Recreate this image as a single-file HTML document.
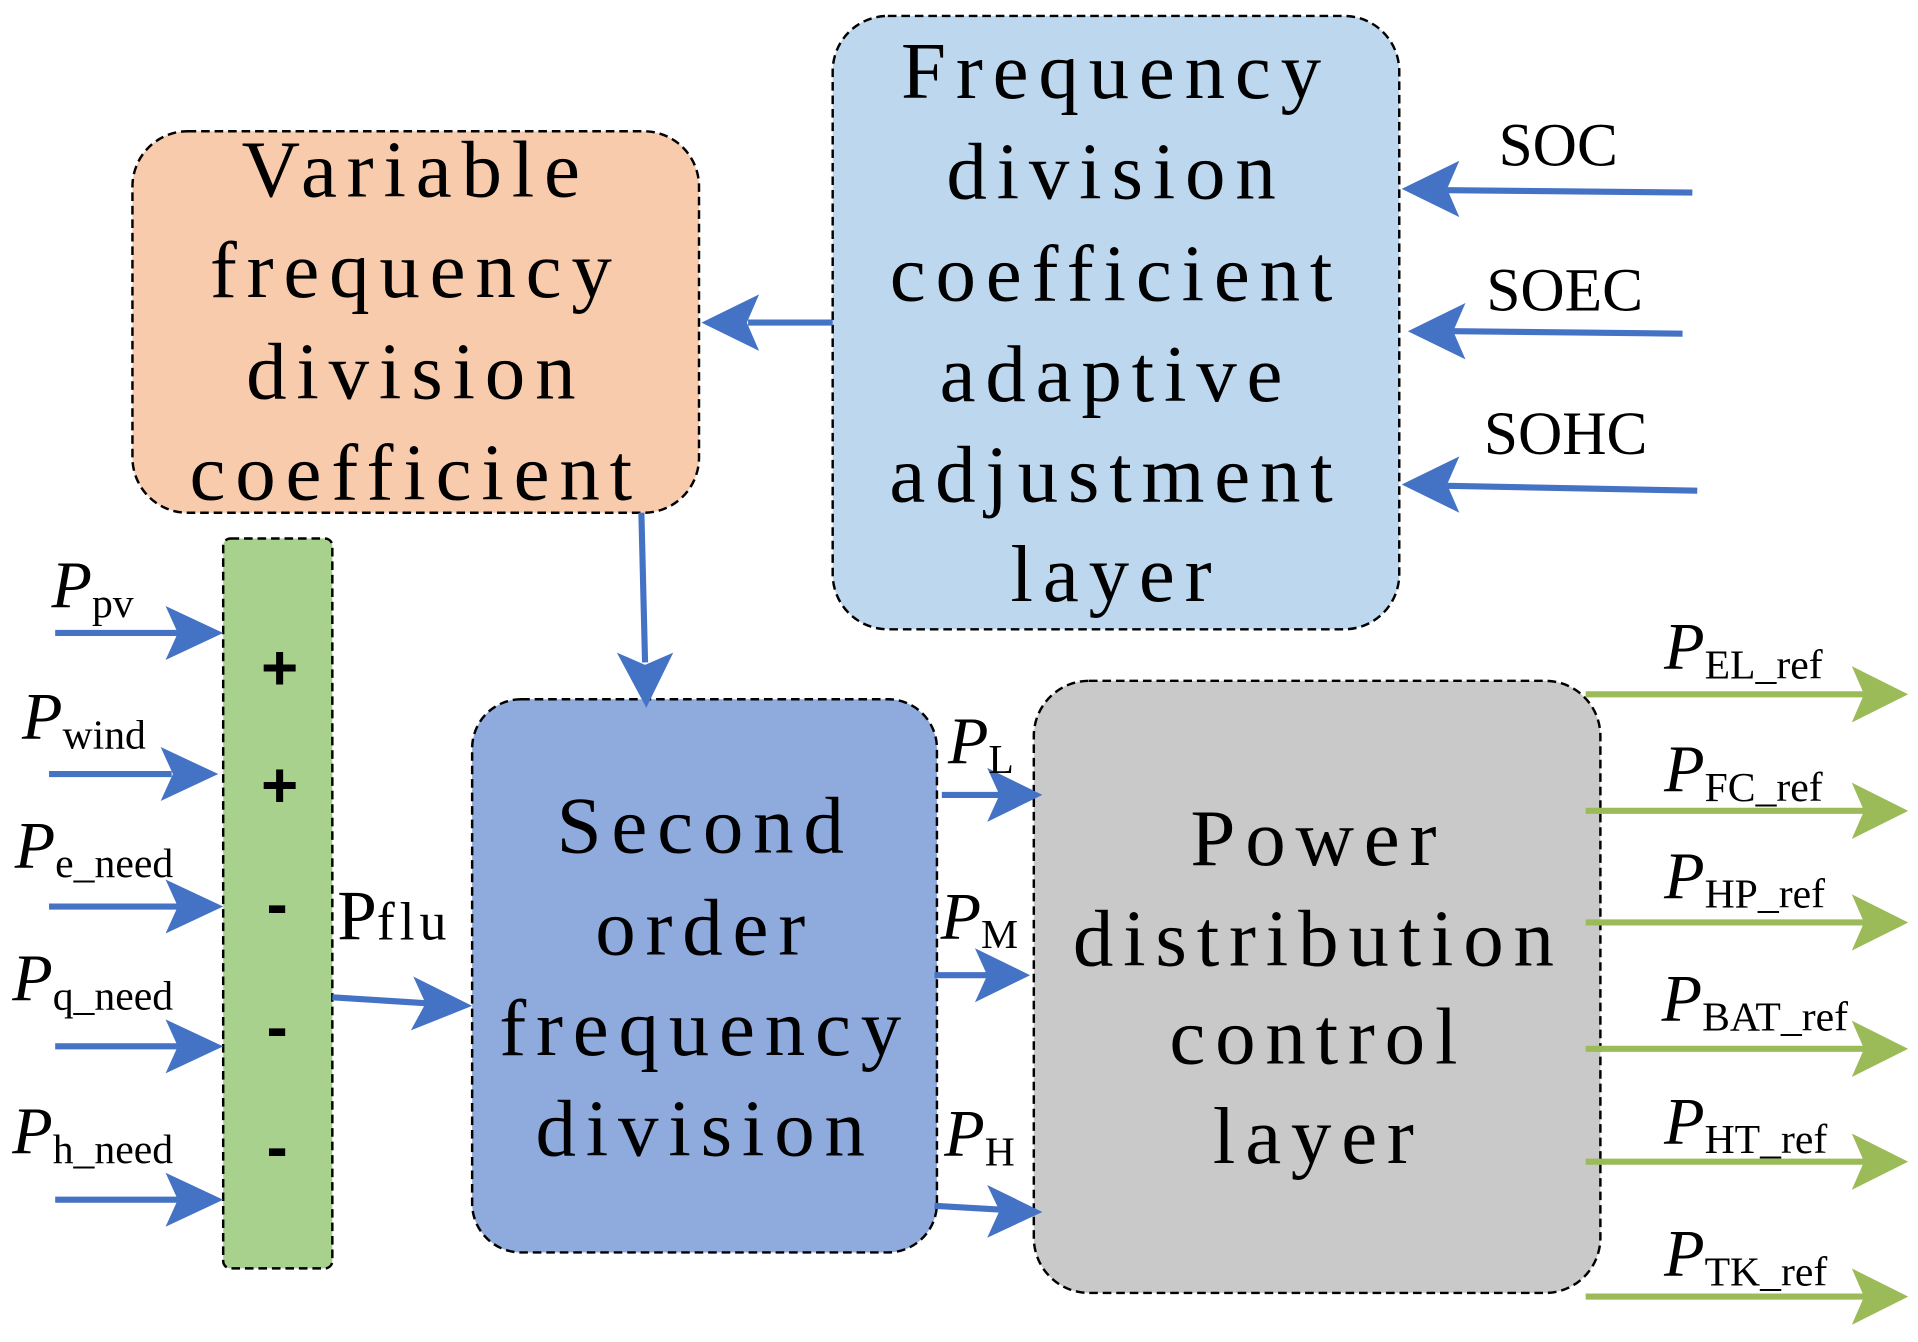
<!DOCTYPE html>
<html><head><meta charset="utf-8"><style>
html,body{margin:0;padding:0;background:#fff;}
svg{display:block;}
.bt{font-family:"Liberation Serif",serif;font-size:66px;fill:#000;text-anchor:middle;letter-spacing:8px;}
.lb{font-family:"Liberation Serif",serif;font-size:50px;fill:#000;}
.P{font-family:"Liberation Serif",serif;font-style:italic;font-size:54px;fill:#000;}
.s{font-family:"Liberation Serif",serif;font-size:34px;fill:#000;font-style:normal;}
.sg{font-family:"Liberation Sans",sans-serif;font-size:52px;font-weight:bold;fill:#000;text-anchor:middle;}
</style></head><body>
<svg width="1918" height="1342" viewBox="0 0 1564 1094" preserveAspectRatio="none" xmlns="http://www.w3.org/2000/svg">
<g stroke="#000" stroke-width="2" stroke-dasharray="7,4">
<rect x="108" y="107" width="462" height="311" rx="45" fill="#F8CBAD"/>
<rect x="679" y="13" width="462" height="500" rx="45" fill="#BDD7EE"/>
<rect x="182" y="439" width="89" height="595" rx="6" fill="#A9D18E"/>
<rect x="385" y="570" width="379" height="451" rx="40" fill="#8FAADC"/>
<rect x="843" y="555" width="462" height="499" rx="45" fill="#C9C9C9"/>
</g>
<g>
<text class="bt" x="339" y="160">Variable</text>
<text class="bt" x="339" y="242">frequency</text>
<text class="bt" x="339" y="325">division</text>
<text class="bt" x="339" y="407">coefficient</text>
<text class="bt" x="910" y="80">Frequency</text>
<text class="bt" x="910" y="162">division</text>
<text class="bt" x="910" y="245">coefficient</text>
<text class="bt" x="910" y="327">adaptive</text>
<text class="bt" x="910" y="409">adjustment</text>
<text class="bt" x="910" y="490">layer</text>
<text class="bt" x="575" y="695">Second</text>
<text class="bt" x="575" y="778">order</text>
<text class="bt" x="575" y="860">frequency</text>
<text class="bt" x="575" y="942">division</text>
<text class="bt" x="1075" y="705">Power</text>
<text class="bt" x="1075" y="787">distribution</text>
<text class="bt" x="1075" y="867">control</text>
<text class="bt" x="1075" y="948">layer</text>
</g>
<g fill="#4472C4" stroke="#4472C4" stroke-width="5">
<line x1="45" y1="516" x2="145" y2="516"/><polygon stroke="none" points="182,516 135,494 145,516 135,538"/>
<line x1="40" y1="631" x2="140" y2="631"/><polygon stroke="none" points="178,631 131,609 141,631 131,653"/>
<line x1="40" y1="739" x2="145" y2="739"/><polygon stroke="none" points="182,739 135,717 145,739 135,761"/>
<line x1="45" y1="853" x2="145" y2="853"/><polygon stroke="none" points="182,853 135,831 145,853 135,875"/>
<line x1="45" y1="978" x2="145" y2="978"/><polygon stroke="none" points="182,978 135,956 145,978 135,1000"/>
<line x1="271" y1="813" x2="350" y2="818"/><polygon stroke="none" points="385,820 337,796 347,818 335,840"/>
<line x1="523" y1="418" x2="526" y2="540"/><polygon stroke="none" points="527,577 503,532 526,542 549,532"/>
<line x1="679" y1="263" x2="610" y2="263"/><polygon stroke="none" points="572,263 619,240 609,263 619,286"/>
<line x1="1380" y1="157" x2="1180" y2="155"/><polygon stroke="none" points="1143,154 1190,131 1180,154 1190,177"/>
<line x1="1372" y1="272" x2="1185" y2="270"/><polygon stroke="none" points="1148,270 1195,247 1185,270 1195,293"/>
<line x1="1384" y1="400" x2="1180" y2="396"/><polygon stroke="none" points="1143,395 1190,372 1180,395 1190,418"/>
<line x1="768" y1="648" x2="815" y2="648"/><polygon stroke="none" points="850,648 805,626 815,648 805,670"/>
<line x1="762" y1="795" x2="805" y2="795"/><polygon stroke="none" points="840,795 795,773 805,795 795,817"/>
<line x1="762" y1="983" x2="815" y2="986"/><polygon stroke="none" points="850,988 805,966 815,987 805,1009"/>
</g>
<g fill="#9BBB59" stroke="#9BBB59" stroke-width="5">
<line x1="1293" y1="566" x2="1520" y2="566"/><polygon stroke="none" points="1556,566 1510,543 1520,566 1510,589"/>
<line x1="1293" y1="661" x2="1520" y2="661"/><polygon stroke="none" points="1556,661 1510,638 1520,661 1510,684"/>
<line x1="1293" y1="752" x2="1520" y2="752"/><polygon stroke="none" points="1556,752 1510,729 1520,752 1510,775"/>
<line x1="1293" y1="855" x2="1520" y2="855"/><polygon stroke="none" points="1556,855 1510,832 1520,855 1510,878"/>
<line x1="1293" y1="947" x2="1520" y2="947"/><polygon stroke="none" points="1556,947 1510,924 1520,947 1510,970"/>
<line x1="1293" y1="1057" x2="1520" y2="1057"/><polygon stroke="none" points="1556,1057 1510,1034 1520,1057 1510,1080"/>
</g>
<g>
<text class="sg" x="228" y="562">+</text>
<text class="sg" x="228" y="658">+</text>
<text class="sg" x="226" y="755">-</text>
<text class="sg" x="226" y="855">-</text>
<text class="sg" x="226" y="953">-</text>
</g>
<text class="lb" x="1222" y="135">SOC</text>
<text class="lb" x="1212" y="253">SOEC</text>
<text class="lb" x="1210" y="370">SOHC</text>
<text class="P" x="275" y="766" style="font-style:normal;font-size:58px">P<tspan class="s" style="font-size:44px;letter-spacing:4px">flu</tspan></text>
<text class="P" x="42" y="495">P<tspan class="s" dy="8">pv</tspan></text>
<text class="P" x="18" y="602">P<tspan class="s" dy="8">wind</tspan></text>
<text class="P" x="12" y="707">P<tspan class="s" dy="8">e_need</tspan></text>
<text class="P" x="10" y="815">P<tspan class="s" dy="8">q_need</tspan></text>
<text class="P" x="10" y="940">P<tspan class="s" dy="8">h_need</tspan></text>
<text class="P" x="773" y="622">P<tspan class="s" dy="8">L</tspan></text>
<text class="P" x="767" y="765">P<tspan class="s" dy="8">M</tspan></text>
<text class="P" x="770" y="942">P<tspan class="s" dy="8">H</tspan></text>
<text class="P" x="1357" y="545">P<tspan class="s" dy="8">EL_ref</tspan></text>
<text class="P" x="1357" y="645">P<tspan class="s" dy="8">FC_ref</tspan></text>
<text class="P" x="1357" y="732">P<tspan class="s" dy="8">HP_ref</tspan></text>
<text class="P" x="1355" y="832">P<tspan class="s" dy="8">BAT_ref</tspan></text>
<text class="P" x="1357" y="932">P<tspan class="s" dy="8">HT_ref</tspan></text>
<text class="P" x="1357" y="1040">P<tspan class="s" dy="8">TK_ref</tspan></text>
</svg>
</body></html>
